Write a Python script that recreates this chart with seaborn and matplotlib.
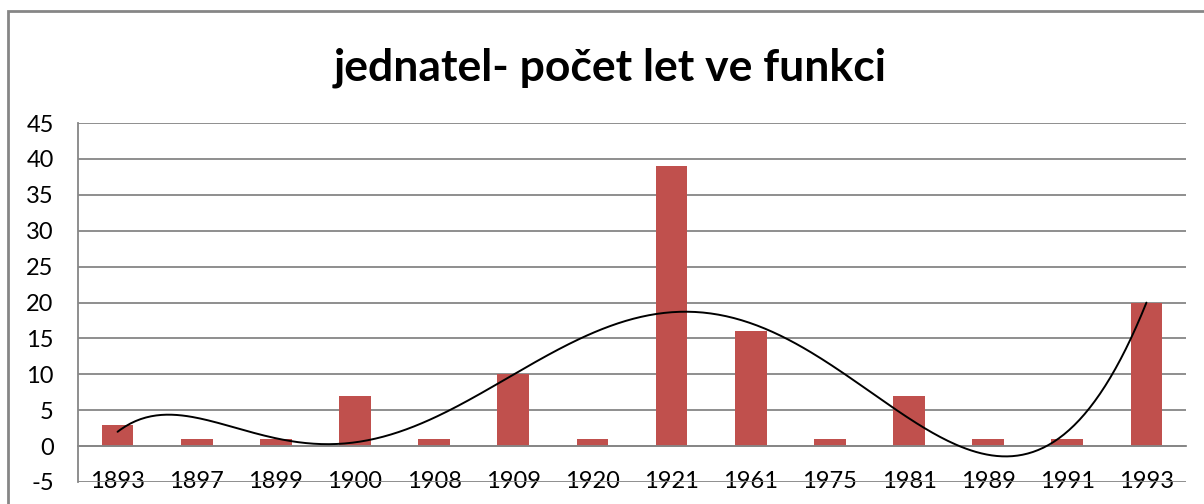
import numpy as np
import pandas as pd
import matplotlib
matplotlib.use("Agg")
import matplotlib.pyplot as plt
import seaborn as sns
from matplotlib.patches import Rectangle
from matplotlib.ticker import MultipleLocator, FixedLocator

# data
years = ["1893", "1897", "1899", "1900", "1908", "1909", "1920",
         "1921", "1961", "1975", "1981", "1989", "1991", "1993"]
counts = [3, 1, 1, 7, 1, 10, 1, 39, 16, 1, 7, 1, 1, 20]
title = "jednatel- počet let ve funkci"

bar_color = "#C0504D"
grid_color = "#868686"

sns.set_style("white")
plt.rcParams["font.family"] = ["Lato", "DejaVu Sans"]
plt.rcParams["axes.unicode_minus"] = False
plt.rcParams["text.color"] = "black"

df = pd.DataFrame({"rok": years, "pocet": counts})

fig = plt.figure(figsize=(12.04, 5.04), dpi=100)
ax = fig.add_axes([78 / 1204, 1 - 482 / 504, (1186 - 78) / 1204, (482 - 123) / 504])

sns.barplot(data=df, x="rok", y="pocet", order=years, color=bar_color,
            width=0.4, saturation=1, linewidth=0, ax=ax, zorder=2)

# polynomial trendline (order 6) fitted to the bar values, like Excel
pos = np.arange(len(years))
coef = np.polyfit(pos + 1, counts, 6)
xs = np.linspace(0, len(years) - 1, 400)
trend = pd.DataFrame({"x": xs, "y": np.polyval(coef, xs + 1)})
sns.lineplot(data=trend, x="x", y="y", color="black", linewidth=1.4, ax=ax, zorder=3)

ax.set_xlim(-0.5, len(years) - 0.5)
ax.set_ylim(-5, 45)
ax.yaxis.set_major_locator(MultipleLocator(5))
ax.grid(axis="y", color=grid_color, linewidth=1.3, zorder=0)
ax.set_axisbelow(True)

for s in ["top", "right"]:
    ax.spines[s].set_visible(False)
ax.spines["left"].set_color(grid_color)
ax.spines["left"].set_linewidth(1.3)
ax.spines["bottom"].set_position(("data", 0))
ax.spines["bottom"].set_color(grid_color)
ax.spines["bottom"].set_linewidth(1.3)

ax.set_xticks(pos)
ax.set_xticklabels(years, va="center")
ax.xaxis.set_minor_locator(FixedLocator(np.arange(-0.5, len(years), 1.0)))
ax.tick_params(axis="x", which="major", length=0, pad=25.5, labelsize=17, colors="black")
ax.tick_params(axis="x", which="minor", length=6, width=1.3, color=grid_color, direction="out")
ax.tick_params(axis="y", length=6.5, width=1.3, color=grid_color, labelsize=17,
               labelcolor="black", direction="out", pad=11)
ax.set_xlabel("")
ax.set_ylabel("")

fig.text(610 / 1204, 1 - 68 / 504, title, ha="center", va="center",
         fontsize=32, fontweight="bold", color="black")

# chart border (only top and left visible in the crop)
fig.patches.append(Rectangle((8 / 1204, -0.5), 1.5, 1.5 - 11 / 504,
                             transform=fig.transFigure, fill=False,
                             edgecolor=grid_color, linewidth=2))

fig.savefig("out.png", dpi=100)
